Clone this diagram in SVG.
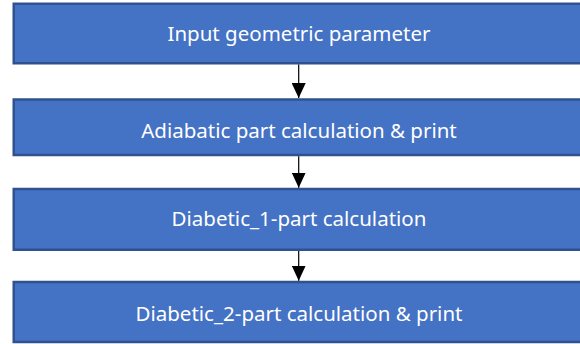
<svg xmlns="http://www.w3.org/2000/svg" width="580" height="344" viewBox="0 0 580 344">
<defs>
<style>
.box{fill:#4472C4;stroke:#2F528F;stroke-width:2.5}
.lbl{fill:#FFFFFF;font-family:"Noto Sans","Open Sans",sans-serif;font-size:20.5px;text-anchor:middle}
.conn{stroke:#000;stroke-width:1.2;fill:none}
</style>
<marker id="ah" markerWidth="15" markerHeight="14" refX="15" refY="7" orient="auto" markerUnits="userSpaceOnUse">
<path d="M0,0 L15,7 L0,14 Z" fill="#000"/>
</marker>
</defs>
<g id="n1"><rect class="box" x="13.75" y="3.75" width="572" height="59.5"/><text class="lbl" x="299" y="41">Input geometric parameter</text></g>
<g id="n2"><rect class="box" x="13.75" y="99.5" width="572" height="55.5"/><text class="lbl" x="299" y="138">Adiabatic part calculation &amp; print</text></g>
<g id="n3"><rect class="box" x="13.75" y="189" width="572" height="60.75"/><text class="lbl" x="299" y="226">Diabetic_1-part calculation</text></g>
<g id="n4"><rect class="box" x="13.75" y="282" width="572" height="60"/><text class="lbl" x="299" y="321">Diabetic_2-part calculation &amp; print</text></g>
<g id="connectors">
<line class="conn" x1="298.7" y1="64.5" x2="298.7" y2="98" marker-end="url(#ah)"/>
<line class="conn" x1="298.7" y1="156.3" x2="298.7" y2="187.7" marker-end="url(#ah)"/>
<line class="conn" x1="298.7" y1="251" x2="298.7" y2="280.7" marker-end="url(#ah)"/>
</g>
</svg>
